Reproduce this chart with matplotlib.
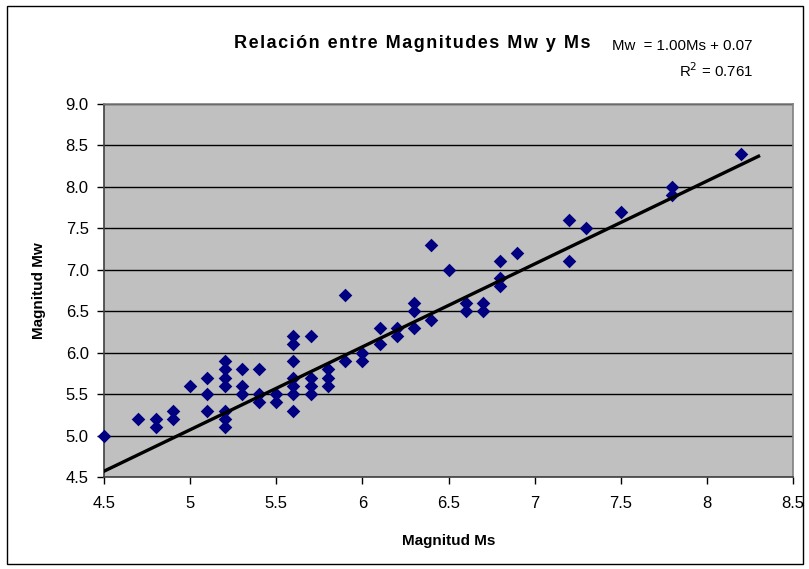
import numpy as np
import matplotlib
matplotlib.use("Agg")
import matplotlib.pyplot as plt
from matplotlib.patches import Rectangle

# Data
ms = [4.5, 4.7, 4.8, 4.8, 4.9, 4.9, 5.0,
      5.1, 5.1, 5.1,
      5.2, 5.2, 5.2, 5.2, 5.2, 5.2, 5.2,
      5.3, 5.3, 5.3,
      5.4, 5.4, 5.4,
      5.5, 5.5,
      5.6, 5.6, 5.6, 5.6, 5.6, 5.6, 5.6,
      5.7, 5.7, 5.7, 5.7,
      5.8, 5.8, 5.8,
      5.9, 5.9,
      6.0, 6.0,
      6.1, 6.1,
      6.2, 6.2,
      6.3, 6.3, 6.3,
      6.4, 6.4,
      6.5,
      6.6, 6.6,
      6.7, 6.7,
      6.8, 6.8, 6.8,
      6.9,
      7.2, 7.2,
      7.3,
      7.5,
      7.8, 7.8,
      8.2]
mw = [5.0, 5.2, 5.2, 5.1, 5.3, 5.2, 5.6,
      5.7, 5.5, 5.3,
      5.9, 5.8, 5.7, 5.6, 5.3, 5.2, 5.1,
      5.8, 5.6, 5.5,
      5.8, 5.5, 5.4,
      5.5, 5.4,
      6.2, 6.1, 5.9, 5.7, 5.6, 5.5, 5.3,
      6.2, 5.7, 5.6, 5.5,
      5.8, 5.7, 5.6,
      6.7, 5.9,
      6.0, 5.9,
      6.3, 6.1,
      6.3, 6.2,
      6.6, 6.5, 6.3,
      7.3, 6.4,
      7.0,
      6.6, 6.5,
      6.6, 6.5,
      7.1, 6.9, 6.8,
      7.2,
      7.6, 7.1,
      7.5,
      7.7,
      8.0, 7.9,
      8.4]

slope = 1.00
intercept = 0.07
r2 = 0.761
trend_range = [4.5, 8.3]

x_ticks = [4.5, 5, 5.5, 6, 6.5, 7, 7.5, 8, 8.5]
x_tick_labels = ["4.5", "5", "5.5", "6", "6.5", "7", "7.5", "8", "8.5"]
y_ticks = [4.5, 5.0, 5.5, 6.0, 6.5, 7.0, 7.5, 8.0, 8.5, 9.0]

plt.rcParams['font.family'] = ['Liberation Sans', 'DejaVu Sans']

W, H = 809, 569
fig = plt.figure(figsize=(W / 100, H / 100), dpi=100)

# outer chart border
fig.patches.append(Rectangle((7 / W, 5 / H), (803 - 7) / W, (563 - 5) / H,
                             transform=fig.transFigure, fill=False,
                             edgecolor='black', linewidth=1.0))

left, right, top, bottom = 104, 793, 104, 477
ax = fig.add_axes([left / W, 1 - bottom / H, (right - left) / W, (bottom - top) / H])
ax.set_facecolor('#C0C0C0')

ax.set_xlim(4.5, 8.5)
ax.set_ylim(4.5, 9.0)
ax.set_xticks(x_ticks)
ax.set_xticklabels(x_tick_labels)
ax.set_yticks(y_ticks)
ax.set_yticklabels([f"{v:.1f}" for v in y_ticks])
ax.tick_params(axis='both', direction='out', length=5, width=1, labelsize=12,
               colors='black', pad=6)
ax.tick_params(axis='x', pad=9)

ax.grid(axis='y', color='black', linewidth=1.0)
ax.set_axisbelow(True)

for s in ['top', 'right']:
    ax.spines[s].set_color('#808080')
    ax.spines[s].set_linewidth(1.2)
for s in ['left', 'bottom']:
    ax.spines[s].set_color('#404040')
    ax.spines[s].set_linewidth(1.2)

ax.scatter(ms, mw, marker='D', s=48, color='#000080', linewidths=0, zorder=3,
           clip_on=False)

tx = np.array(trend_range)
ax.plot(tx, slope * tx + intercept, color='black', linewidth=2.4, zorder=4)

ax.set_xlabel("Magnitud Ms", fontsize=11, fontweight='bold', labelpad=16)
ax.set_ylabel("Magnitud Mw", fontsize=11, fontweight='bold', labelpad=14)

# title with wider letter spacing (as in the reference rendering)
title = "Relación entre Magnitudes Mw y Ms"
title_text = "\u200a".join(title)
fig.text(412 / W, 1 - 43 / H, title_text,
         ha='center', va='center', fontsize=13, fontweight='bold')
fig.text(753 / W, 1 - 46 / H, f"Mw  = {slope:.2f}Ms + {intercept:.2f}",
         ha='right', va='center', fontsize=10.8)
fig.text(753 / W, 1 - 71 / H, f"R$^2$ = {r2:.3f}",
         ha='right', va='center', fontsize=10.8)

fig.savefig("out.png", dpi=100)
